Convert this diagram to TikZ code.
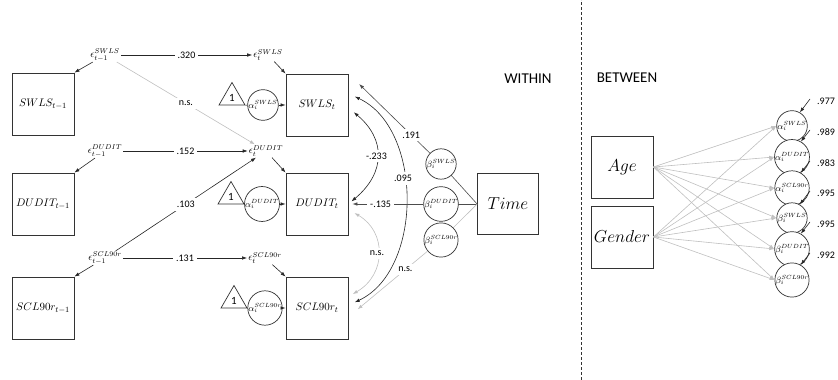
\documentclass[tikz,border=0pt]{standalone}
\usepackage{fontspec}
\setmainfont{Carlito}
\usetikzlibrary{arrows.meta,positioning,shapes.geometric,calc}

\begin{document}
\begin{tikzpicture}[x=1pt, y=1pt,
    >={Latex[length=5pt,width=3.5pt]},
    varbox/.style={draw=black!80, line width=0.8pt, rectangle, minimum width=62pt, minimum height=62pt, inner sep=0pt, font=\fontsize{11}{13}\selectfont},
    bigvar/.style={varbox, minimum width=61pt, minimum height=61pt, font=\fontsize{16}{19}\selectfont},
    errlab/.style={font=\fontsize{10}{12}\selectfont, inner sep=1pt},
    latent/.style={draw=black!80, line width=0.7pt, circle, fill=white, minimum size=28pt, inner sep=0pt, font=\fontsize{9}{10}\selectfont},
    intercept/.style={draw=black!80, line width=0.7pt, regular polygon, regular polygon sides=3, minimum size=30pt, inner sep=0pt, font=\fontsize{11}{12}\selectfont},
    coef/.style={fill=white, inner sep=3pt, font=\fontsize{10}{12}\selectfont},
    reg/.style={->, draw=black!85, line width=0.6pt},
    nspath/.style={->, draw=black!25, line width=0.6pt},
    heading/.style={font=\fontsize{15}{18}\selectfont}
]
    \useasboundingbox (0,0) rectangle (838,380);

    % observed variables
    \node[varbox] (SWLSp) at (43,276) {$SWLS_{t-1}$};
    \node[varbox] (DUDITp) at (43,176) {$DUDIT_{t-1}$};
    \node[varbox] (SCLp) at (43,72) {$SCL90r_{t-1}$};
    \node[varbox] (SWLSt) at (317,275) {$SWLS_t$};
    \node[varbox] (DUDITt) at (317,176) {$DUDIT_t$};
    \node[varbox] (SCLt) at (317,72) {$SCL90r_t$};

    % residuals
    \node[errlab] (eSWLSp) at (105,325) {$\epsilon_{t-1}^{SWLS}$};
    \node[errlab] (eDUDITp) at (105,229) {$\epsilon_{t-1}^{DUDIT}$};
    \node[errlab] (eSCLp) at (105,122) {$\epsilon_{t-1}^{SCL90r}$};
    \node[errlab] (eSWLSt) at (268,325) {$\epsilon_{t}^{SWLS}$};
    \node[errlab] (eDUDITt) at (266,229) {$\epsilon_{t}^{DUDIT}$};
    \node[errlab] (eSCLt) at (265,122) {$\epsilon_{t}^{SCL90r}$};

    \draw[reg] (eSWLSp) -- (SWLSp.north east);
    \draw[reg] (eDUDITp) -- (DUDITp.north east);
    \draw[reg] (eSCLp) -- (SCLp.north east);
    \draw[reg] (eSWLSt) -- (SWLSt.north west);
    \draw[reg] (eDUDITt) -- (DUDITt.north west);
    \draw[reg] (eSCLt) -- (SCLt.north west);

    \draw[reg] (eSWLSp) -- node[coef]{.320} (eSWLSt);
    \draw[reg] (eDUDITp) -- node[coef]{.152} (eDUDITt);
    \draw[reg] (eSCLp) -- node[coef]{.131} (eSCLt);
    \draw[nspath] (eSWLSp) -- node[coef]{n.s.} (eDUDITt);
    \draw[reg] (eSCLp) -- node[coef]{.103} (eDUDITt);

    % random intercepts
    \node[intercept] (one1) at (232,282.5) {1};
    \node[intercept] (one2) at (231,183.5) {1};
    \node[intercept] (one3) at (234,79.5) {1};
    \node[latent] (aSWLS) at (263,275) {$\alpha_i^{SWLS}$};
    \node[latent] (aDUDIT) at (262,176) {$\alpha_i^{DUDIT}$};
    \node[latent] (aSCL) at (265,72) {$\alpha_i^{SCL90r}$};
    \foreach \t/\a/\b in {one1/aSWLS/SWLSt, one2/aDUDIT/DUDITt, one3/aSCL/SCLt} {
        \draw[black!80, line width=0.6pt] (\t.corner 3) -- (\a.west);
        \draw[reg] (\a) -- (\b);
    }

    % covariances
    \draw[<->, draw=black!85, line width=0.6pt, shorten <=7pt, shorten >=4pt]
        (SWLSt.-5) to[out=-40, in=40, looseness=1.3] node[coef]{-.233} (DUDITt.east);
    \draw[<->, draw=black!85, line width=0.6pt, shorten <=7pt, shorten >=7pt]
        (SWLSt.20) to[out=-25, in=25] node[coef, pos=0.42]{.095} (SCLt.5);
    \draw[<->, draw=black!25, line width=0.6pt, shorten <=7pt, shorten >=5pt]
        (DUDITt.-10) to[out=-30, in=30, looseness=1.3] node[coef]{n.s.} (SCLt.20);

    % random slopes
    \node[bigvar] (Time) at (508,176) {$Time$};
    \draw[black!70, line width=0.6pt] (Time.west) -- (441,216);
    \draw[black!70, line width=0.6pt] (Time.west) -- (441,176);
    \draw[black!25, line width=0.6pt] (Time.west) -- (441,140);
    \node[latent] (bSWLS) at (441,216) {$\beta_i^{SWLS}$};
    \node[latent] (bDUDIT) at (441,176) {$\beta_i^{DUDIT}$};
    \node[latent] (bSCL) at (441,140) {$\beta_i^{SCL90r}$};
    \draw[reg, draw=black!70, shorten >=15pt] (bSWLS) -- node[coef, pos=0.23]{.191} (SWLSt.north east);
    \draw[reg, draw=black!70, shorten >=4pt] (bDUDIT) -- node[coef, pos=0.57]{-.135} (DUDITt.east);
    \draw[nspath, shorten >=12pt] (bSCL) -- node[coef, pos=0.28]{n.s.} (SCLt.-16);

    \node[heading] (within) at (528,301) {WITHIN};
    \draw[densely dashed, black!80, line width=0.7pt] (581,0) -- (581,380);
    \node[heading] (between) at (627,302) {BETWEEN};

    % between level
    \node[bigvar, minimum width=62pt, minimum height=62pt] (Age) at (622,213) {$Age$};
    \node[bigvar, minimum width=62pt, minimum height=62pt] (Gender) at (622,143) {$Gender$};
    \foreach \nm/\txt/\yy/\rr in {aSWLSb/\alpha_i^{SWLS}/254/.977, aDUDITb/\alpha_i^{DUDIT}/223/.989,
        aSCLb/\alpha_i^{SCL90r}/192/.983, bSWLSb/\beta_i^{SWLS}/162/.995,
        bDUDITb/\beta_i^{DUDIT}/131/.995, bSCLb/\beta_i^{SCL90r}/100/.992} {
        \node[latent] (\nm) at (792,\yy) {$\txt$};
        \node[font=\fontsize{10}{12}\selectfont, anchor=west, inner sep=0pt] (r\nm) at (817,\yy+25) {\rr};
        \coordinate (s\nm) at (810,\yy+27);
        \draw[reg] (s\nm) -- (\nm.60);
        \draw[nspath] (Age.east) -- (\nm.west);
        \draw[nspath] (Gender.east) -- (\nm.west);
    }
\end{tikzpicture}
\end{document}
